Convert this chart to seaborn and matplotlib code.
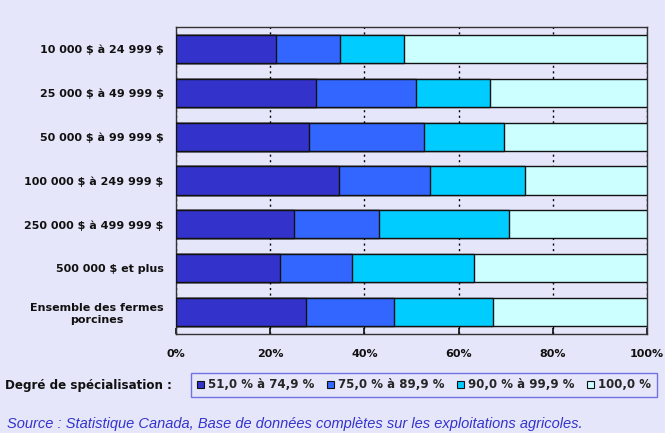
import matplotlib
matplotlib.use("Agg")
import matplotlib.pyplot as plt
import seaborn as sns
import numpy as np
import pandas as pd
from matplotlib.patches import Patch

categories = ["10 000 $ à 24 999 $", "25 000 $ à 49 999 $", "50 000 $ à 99 999 $",
              "100 000 $ à 249 999 $", "250 000 $ à 499 999 $", "500 000 $ et plus",
              "Ensemble des fermes\nporcines"]
series_names = ["51,0 % à 74,9 %", "75,0 % à 89,9 %", "90,0 % à 99,9 %", "100,0 %"]
s1 = [21.3, 29.8, 28.2, 34.7, 25.0, 22.1, 27.5]
s2 = [13.6, 21.1, 24.5, 19.2, 18.2, 15.3, 18.7]
s3 = [13.6, 15.8, 16.9, 20.3, 27.4, 25.9, 21.1]
s4 = [51.5, 33.3, 30.4, 25.8, 29.4, 36.7, 32.7]
x_ticks = [0, 20, 40, 60, 80, 100]
x_ticklabels = ["0%", "20%", "40%", "60%", "80%", "100%"]

colors = ["#3333CC", "#3366FF", "#00CCFF", "#CCFFFF"]
bg = "#E6E6FA"

sns.set_theme(style="white")
plt.rcParams['font.family'] = ['DejaVu Sans']
plt.rcParams['text.parse_math'] = False

FS = 8
fig = plt.figure(figsize=(6.65, 4.33), dpi=100, facecolor=bg)
ax = fig.add_axes([176/665, 1-334/433, (647-176)/665, (334-27)/433])
ax.set_facecolor(bg)

vals = np.array([s1, s2, s3, s4])
cum = np.cumsum(vals, axis=0)
for i in range(3, -1, -1):
    df = pd.DataFrame({"cat": categories, "val": cum[i]})
    sns.barplot(data=df, x="val", y="cat", orient="h", color=colors[i],
                saturation=1, width=0.64, edgecolor="#111111", linewidth=1.0,
                ax=ax, zorder=3)

ax.set_xlim(0, 100)
ax.set_xticks(x_ticks)
ax.set_xticklabels(x_ticklabels, fontsize=FS, fontweight="bold", color="#111111")
ax.set_xlabel("")
ax.set_ylabel("")
ax.tick_params(axis="x", direction="in", length=4, color="#111111", pad=11, bottom=True)
ax.tick_params(axis="y", length=0, pad=9)
for lab in ax.get_yticklabels():
    lab.set_fontsize(FS)
    lab.set_fontweight("bold")
    lab.set_color("#111111")
    lab.set_horizontalalignment("right")
    lab.set_multialignment("center")
ax.xaxis.grid(True, linestyle=(0, (1.5, 2.5)), color="#000000", linewidth=1.0, zorder=0)
ax.set_axisbelow(True)
for sp in ax.spines.values():
    sp.set_color("#333333")
    sp.set_linewidth(1.0)
ax.set_ylim(6.5, -0.5)

handles = [Patch(facecolor=c, edgecolor="#111111", linewidth=0.8) for c in colors]
leg = fig.legend(handles, series_names, loc="center", bbox_to_anchor=(424/665, 1-385/433),
                 ncol=4, frameon=True, fancybox=False, edgecolor="#5555DD",
                 facecolor=bg, handlelength=0.6, handleheight=0.6, handletextpad=0.3,
                 columnspacing=1.1, borderpad=0.5, borderaxespad=0,
                 prop={"size": 8.5, "weight": "bold"})
leg.get_frame().set_linewidth(1.0)

fig.text(5/665, 1-386/433, "Degré de spécialisation :", fontsize=8.6, fontweight="bold",
         color="#111111", ha="left", va="center")
fig.text(7/665, 1-424/433, "Source : Statistique Canada, Base de données complètes sur les exploitations agricoles.",
         fontsize=10.5, style="italic", color="#3333CC", ha="left", va="center",
         family="Liberation Sans")

fig.savefig("out.png", dpi=100, facecolor=bg)
